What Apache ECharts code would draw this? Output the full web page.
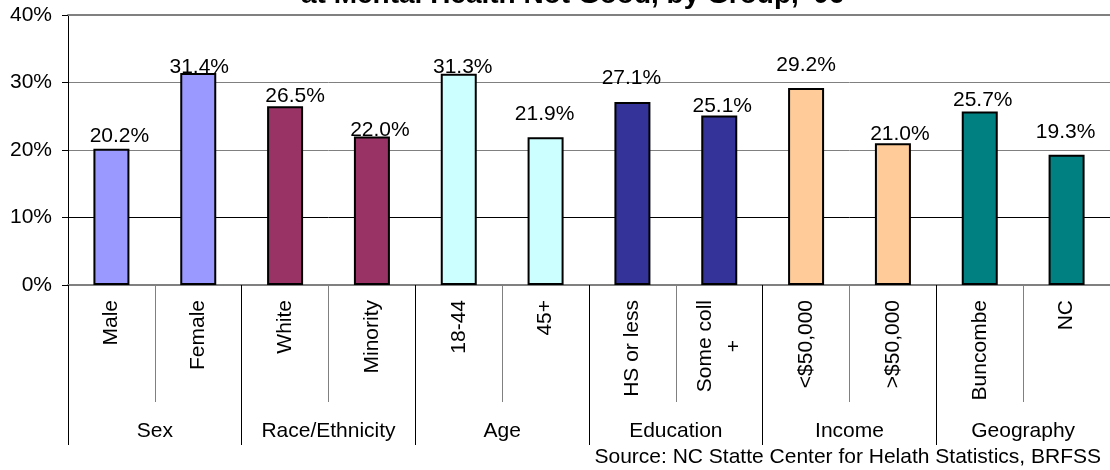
<!DOCTYPE html>
<html>
<head>
<meta charset="utf-8">
<script src="https://cdn.jsdelivr.net/npm/echarts@6/dist/echarts.min.js"></script>
<style>
html,body{margin:0;padding:0;background:#fff;}
#c{width:1110px;height:470px;}
</style>
</head>
<body>
<div id="c"></div>
<script>
// ---- data ----
var categories = ['Male', 'Female', 'White', 'Minority', '18-44', '45+', 'HS or less', 'Some coll\n+', '<$50,000', '>$50,000', 'Buncombe', 'NC'];
var values = [20.2, 31.4, 26.5, 22.0, 31.3, 21.9, 27.1, 25.1, 29.2, 21.0, 25.7, 19.3];
var groupNames = ['Sex', 'Race/Ethnicity', 'Age', 'Education', 'Income', 'Geography'];
var groupOfCategory = [0, 0, 1, 1, 2, 2, 3, 3, 4, 4, 5, 5];
var yTicks = [0, 10, 20, 30, 40];

// ---- styles ----
var groupColors = ['#9999FF', '#993366', '#CCFFFF', '#333399', '#FFCC99', '#008080'];
var labelOffsets = [[8, 3], [1, 10], [10, 6], [8, 9], [4, 9], [-1, -7], [-1, -8], [3, 6], [0, -7], [7, 6], [3, 4], [-1, -7]];
var FONT = 'Liberation Sans, Arial, sans-serif';

var chart = echarts.init(document.getElementById('c'), null, {renderer: 'canvas'});

var seriesData = values.map(function (v, i) {
  return {
    value: v,
    itemStyle: {color: groupColors[groupOfCategory[i]]},
    label: {offset: labelOffsets[i]}
  };
});

chart.setOption({
  animation: false,
  backgroundColor: '#fff',
  textStyle: {fontFamily: FONT},
  title: [{
    text: "at Mental Health Not Good, by Group, '06",
    left: 296,
    top: -24,
    textStyle: {fontFamily: FONT, fontSize: 28, fontWeight: 'bold', color: '#000'}
  }, {
    text: 'Source: NC Statte Center for Helath Statistics, BRFSS',
    right: 4,
    top: 442,
    textStyle: {fontFamily: FONT, fontSize: 21, fontWeight: 'normal', color: '#000'}
  }],
  grid: {left: 68, top: 15, width: 1050, height: 270, containLabel: false},
  xAxis: [{
    type: 'category',
    data: categories,
    position: 'bottom',
    axisLine: {show: true, lineStyle: {color: '#808080', width: 2}},
    axisTick: {show: true, interval: 0, length: 117, lineStyle: {color: '#808080', width: 1}},
    axisLabel: {
      interval: 0, rotate: 90, margin: 15, color: '#000', fontFamily: FONT, fontSize: 21,
      formatter: function (v) {
        var parts = v.split('\n');
        if (parts.length > 1) {
          return '{a|' + parts[0] + '}\n{b|' + parts[1] + '}';
        }
        return v;
      },
      rich: {
        a: {fontFamily: FONT, fontSize: 21, lineHeight: 29, color: '#000'},
        b: {fontFamily: FONT, fontSize: 21, lineHeight: 29, color: '#000', width: 92, align: 'center'}
      }
    },
    splitLine: {show: false}
  }, {
    type: 'category',
    data: groupNames,
    position: 'bottom',
    gridIndex: 0,
    axisLine: {show: false},
    axisTick: {show: true, interval: 0, length: 160, lineStyle: {color: '#000', width: 1}},
    axisLabel: {interval: 0, margin: 136, color: '#000', fontFamily: FONT, fontSize: 21},
    splitLine: {show: false}
  }, {
    type: 'category',
    data: groupNames,
    position: 'top',
    gridIndex: 0,
    axisLine: {show: true, lineStyle: {color: '#808080', width: 2}},
    axisTick: {show: false},
    axisLabel: {show: false},
    splitLine: {show: false}
  }],
  yAxis: {
    type: 'value',
    min: yTicks[0],
    max: yTicks[yTicks.length - 1],
    interval: 10,
    axisLine: {show: true, lineStyle: {color: '#000', width: 1}},
    axisTick: {show: true, length: 6, lineStyle: {color: '#000'}},
    axisLabel: {margin: 16, color: '#000', fontFamily: FONT, fontSize: 21, formatter: '{value}%'},
    splitLine: {show: true, lineStyle: {color: ['#000', '#000', '#808080', '#808080'], width: 1}}
  },
  series: [{
    type: 'bar',
    xAxisIndex: 0,
    data: seriesData,
    barWidth: 36,
    itemStyle: {borderColor: '#000', borderWidth: 2},
    label: {
      show: true,
      position: 'top',
      distance: 5,
      color: '#000',
      fontFamily: FONT,
      fontSize: 21,
      formatter: function (p) { return p.value.toFixed(1) + '%'; }
    }
  }]
});
</script>
</body>
</html>
